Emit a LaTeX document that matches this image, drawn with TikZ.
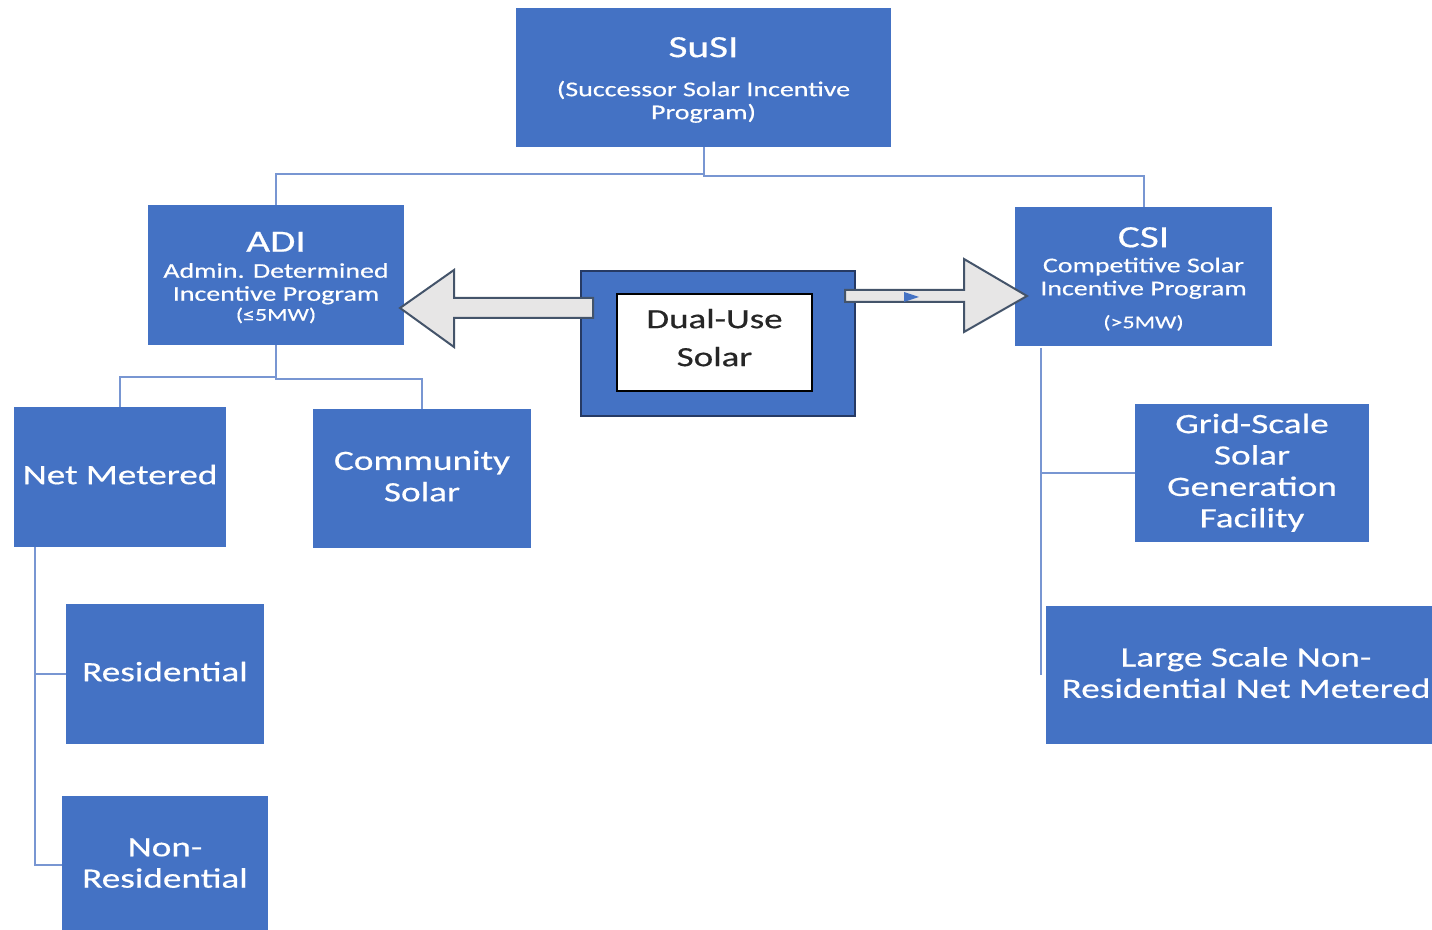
\documentclass[tikz,border=0pt]{standalone}
\usepackage{fontspec}
\setmainfont[FakeStretch=1.33,FakeBold=0.5]{Carlito}
\usetikzlibrary{calc}
\definecolor{boxblue}{RGB}{68,114,196}
\definecolor{linkblue}{RGB}{120,150,210}
\definecolor{arrowgray}{RGB}{231,230,230}
\definecolor{arrowedge}{RGB}{68,84,106}
\definecolor{navyedge}{RGB}{38,58,100}
\tikzset{
  prog/.style={rectangle,fill=boxblue,text=white,align=center,inner sep=0pt,
    text depth=2.5pt,font=\fontsize{14}{15.7}\selectfont},
  head/.style={rectangle,fill=boxblue,text=white,align=center,inner sep=0pt,
    font=\fontsize{10.5}{11.5}\selectfont},
  link/.style={draw=linkblue,line width=1pt},
  bigarrow/.style={fill=arrowgray,draw=arrowedge,line width=1pt,line join=miter},
}
\newcommand{\progttl}[1]{{\fontsize{15.5}{11.5}\selectfont\vrule height 12.5pt width 0pt #1}}
\newcommand{\progcap}[1]{{\fontsize{9}{11.5}\selectfont #1}}

\begin{document}
\begin{tikzpicture}[x=0.5pt,y=-0.5pt]
    \useasboundingbox (0,0) rectangle (1432,930);

    \node[head,minimum width=187.5pt,minimum height=69.5pt] (susi) at (703.5,77.5)
      {\progttl{SuSI}\\[8pt](Successor Solar Incentive\\Program)};
    \node[head,minimum width=128pt,minimum height=70pt] (adi) at (276,275)
      {\progttl{ADI}\\[1.5pt]Admin. Determined\\Incentive Program\\[-1.5pt]\progcap{(≤5MW)}};
    \node[head,minimum width=128.5pt,minimum height=69.5pt] (csi) at (1143.5,276.5)
      {\progttl{CSI}\\[1pt]Competitive Solar\\Incentive Program\\[5pt]\progcap{(>5MW)}};

    \node[prog,minimum width=106pt,minimum height=70pt] (net) at (120,477) {Net Metered};
    \node[prog,minimum width=109pt,minimum height=69.5pt] (comm) at (422,478.5) {Community\\Solar};
    \node[prog,minimum width=99pt,minimum height=70pt] (res) at (165,674) {Residential};
    \node[prog,minimum width=103pt,minimum height=69.5pt] (nonres) at (165,865.5) {Non-\\Residential};
    \node[prog,minimum width=117pt,minimum height=69pt] (grid) at (1252,473)
      {Grid-Scale\\Solar\\Generation\\Facility};
    \node[prog,minimum width=200pt,minimum height=69pt] (large) at (1246,675)
      {Large Scale Non-\\Residential Net Metered};

    \draw[link] (susi.south) -- ++(0,27) -| (adi.north);
    \draw[link] (susi.south) -- ++(0,29) -| (csi.north);
    \draw[link] (adi.south) -- ++(0,32) -| (net.north);
    \draw[link] (adi.south) -- ++(0,34) -| (comm.north);

    \coordinate (nt) at ($(net.south west)+(21,0)$);
    \draw[link] (nt) |- (res.west);
    \draw[link] (nt) |- (nonres.west);

    \coordinate (ct) at ($(csi.south west)+(26,2)$);
    \coordinate (cend) at (ct |- large.west);
    \draw[link] (ct) |- (grid.west);
    \draw[link] (ct) -- (cend);

    % dual use in the middle
    \node[rectangle,fill=boxblue,draw=navyedge,line width=1pt,
      minimum width=137pt,minimum height=72.5pt] (dual) at (718,343.5) {};
    \node[rectangle,fill=white,draw=black,line width=0.8pt,align=center,
      minimum width=97.5pt,minimum height=48.5pt,text depth=5pt,
      font=\fontsize{13.9}{19}\selectfont,text=black!85] (dualtxt) at (714.5,342.5) {Dual-Use\\Solar};

    % block arrows
    \draw[bigarrow] (593,298) -- (454,298) -- (454,270) -- (400,308)
      -- (454,347) -- (454,318) -- (593,318) -- cycle;
    \draw[bigarrow] (845,290) -- (964,290) -- (964,259) -- (1027,296)
      -- (964,332) -- (964,302) -- (845,302) -- cycle;
    \fill[boxblue] (904,292) -- (919,297) -- (904,302) -- cycle;
\end{tikzpicture}
\end{document}
